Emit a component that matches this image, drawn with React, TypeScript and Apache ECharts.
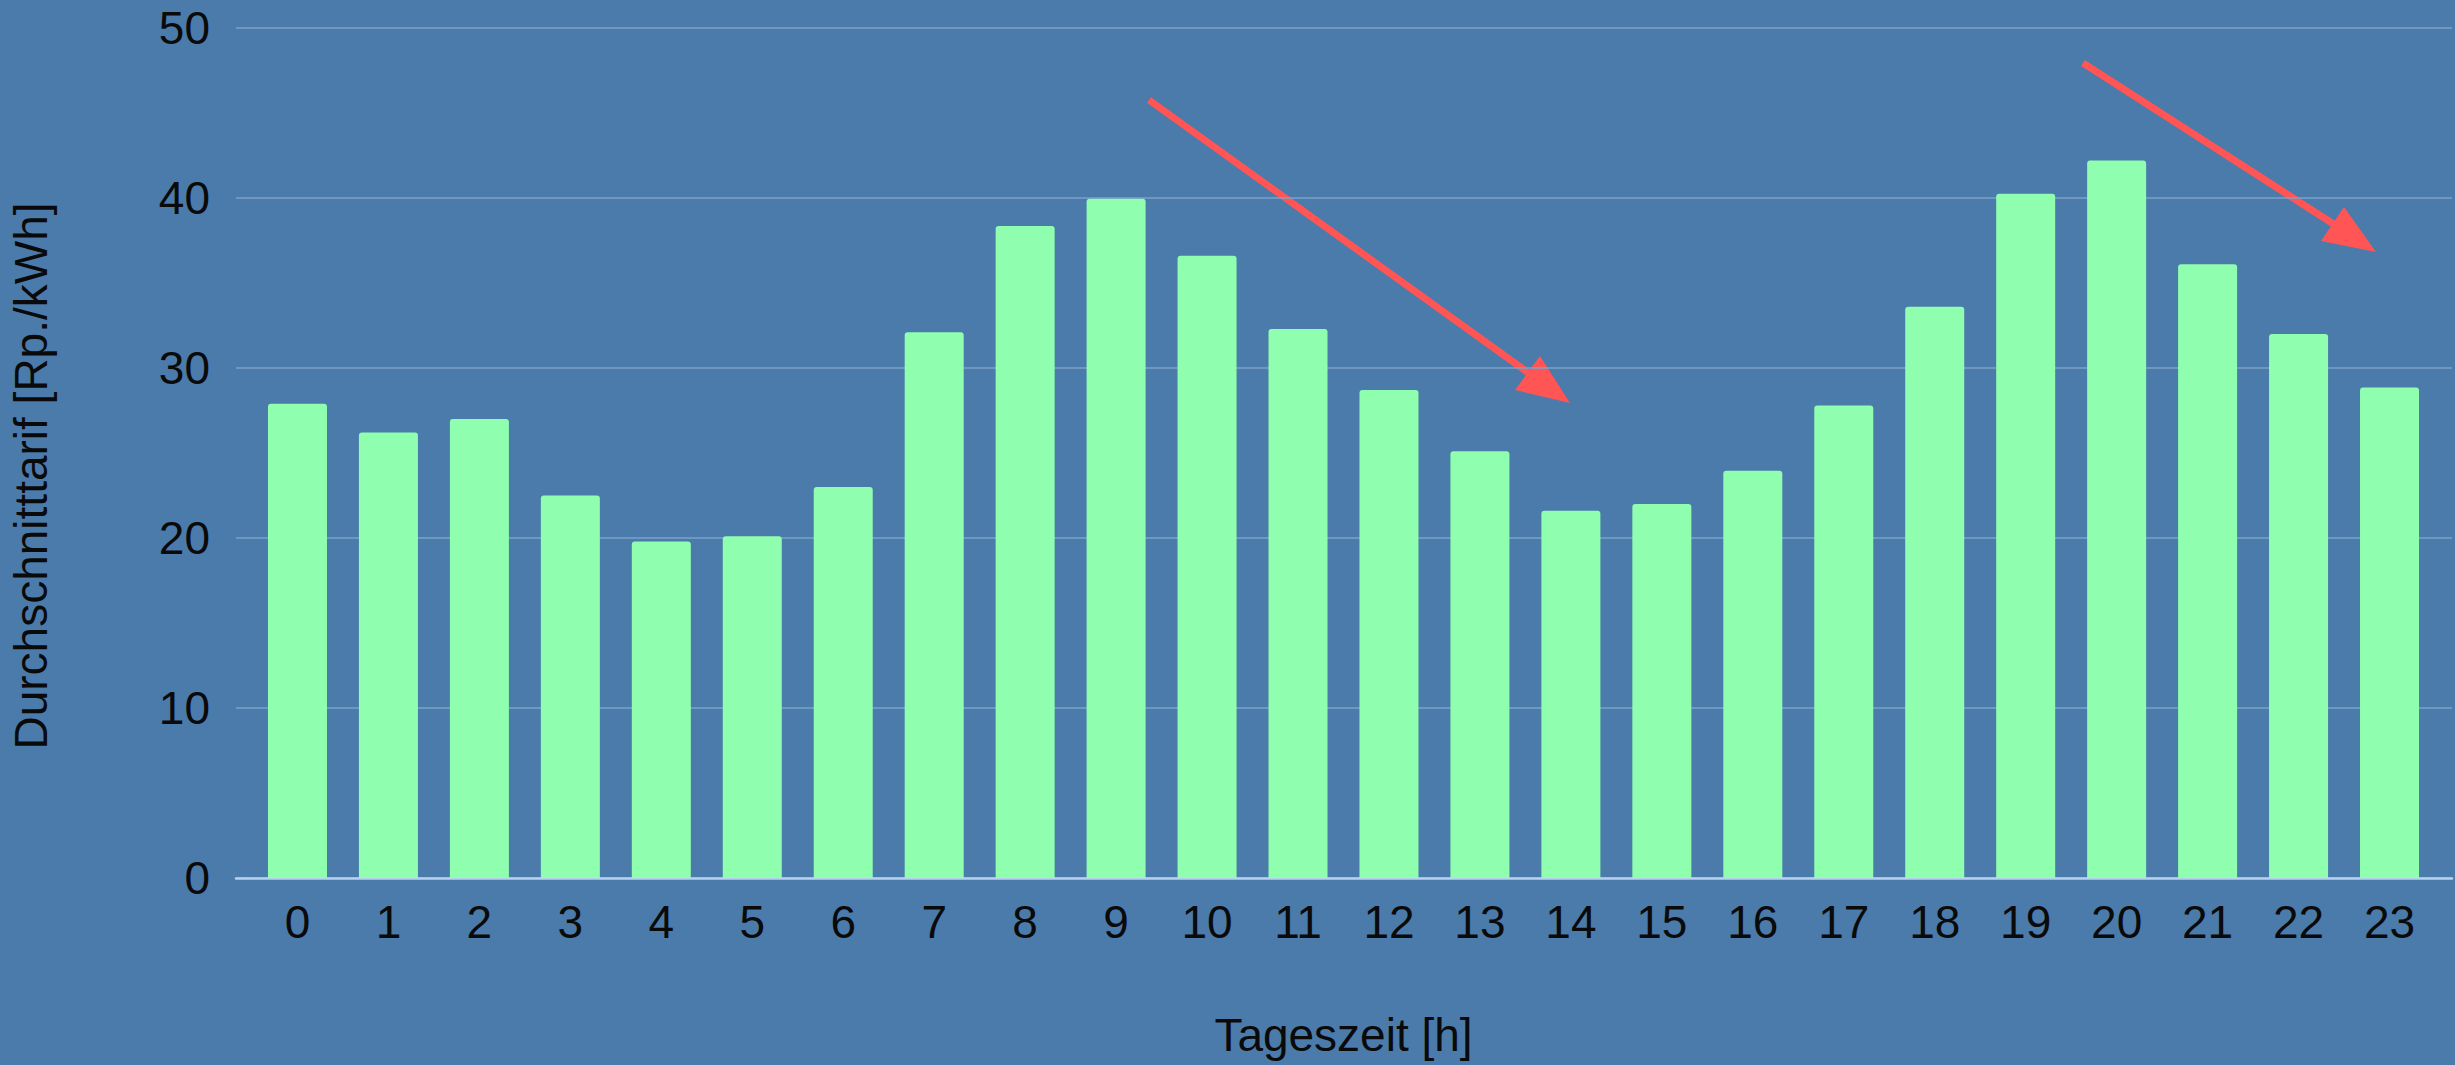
import React, { useEffect, useRef } from "react";
import * as echarts from "echarts";

const hours = ["0","1","2","3","4","5","6","7","8","9","10","11","12","13","14","15","16","17","18","19","20","21","22","23"];
const tariff = [27.9, 26.2, 27.0, 22.5, 19.8, 20.1, 23.0, 32.1, 38.35, 39.95, 36.6, 32.3, 28.7, 25.1, 21.6, 22.0, 23.95, 27.8, 33.6, 40.25, 42.2, 36.1, 32.0, 28.85];
const yTicks = { min: 0, max: 50, interval: 10 };
const xTitle = "Tageszeit [h]";
const yTitle = "Durchschnitttarif [Rp./kWh]";

const FONT = "Liberation Sans, Arial, sans-serif";
const TEXT = "#0A0A0A";
const BG = "#4A7BAA";
const BAR = "#8FFFAF";
const GRIDLINE = "#7DA2C8";
const AXISLINE = "#B6D2EE";
const ARROW = "#FF5555";
const FS = 46;

export default function App() {
  const ref = useRef<HTMLDivElement>(null);
  useEffect(() => {
    if (!ref.current) return;
    const chart = echarts.init(ref.current, undefined, { renderer: "svg" });
    const bottom = 187;
    chart.setOption({
      animation: false,
      backgroundColor: BG,
      textStyle: { fontFamily: FONT },
      grid: [
        { left: 252, right: 20, top: 28, bottom },
        { left: 236, right: 3, top: 28, bottom },
        { left: 236, right: 3, top: 74, bottom },
      ],
      xAxis: [
        {
          type: "category",
          gridIndex: 0,
          data: hours,
          axisLine: { show: false },
          axisTick: { show: false },
          axisLabel: { color: TEXT, fontSize: FS, fontFamily: FONT, margin: 21 },
          name: xTitle,
          nameLocation: "middle",
          nameGap: 134,
          nameTextStyle: { color: TEXT, fontSize: FS, fontFamily: FONT },
        },
        {
          type: "value",
          gridIndex: 1,
          min: 0,
          max: 1,
          axisLine: { show: true, lineStyle: { color: AXISLINE, width: 2.5 } },
          axisTick: { show: false },
          axisLabel: { show: false },
          splitLine: { show: false },
        },
        {
          type: "value",
          gridIndex: 2,
          show: false,
          min: 0,
          max: 1,
        },
      ],
      yAxis: [
        {
          type: "value",
          gridIndex: 0,
          show: false,
          min: yTicks.min,
          max: yTicks.max,
          interval: yTicks.interval,
        },
        {
          type: "value",
          gridIndex: 1,
          min: yTicks.min,
          max: yTicks.max,
          interval: yTicks.interval,
          axisLine: { show: false },
          axisTick: { show: false },
          axisLabel: { color: TEXT, fontSize: FS, fontFamily: FONT, margin: 26 },
          splitLine: { show: true, lineStyle: { color: GRIDLINE, width: 1.5 } },
        },
        {
          type: "value",
          gridIndex: 2,
          min: 0,
          max: 1,
          axisLine: { show: false },
          axisTick: { show: false },
          axisLabel: { show: false },
          splitLine: { show: false },
          name: yTitle,
          nameLocation: "middle",
          nameGap: 184,
          nameTextStyle: { color: TEXT, fontSize: FS, fontFamily: FONT },
        },
      ],
      series: [
        {
          type: "bar",
          xAxisIndex: 0,
          yAxisIndex: 0,
          data: tariff,
          barWidth: 59,
          itemStyle: { color: BAR, borderRadius: [3, 3, 0, 0] },
        },
      ],
      graphic: [
        { type: "line", shape: { x1: 1149, y1: 100, x2: 1530, y2: 374 }, style: { stroke: ARROW, lineWidth: 7 } },
        { type: "polygon", shape: { points: [[1570, 403], [1515, 390], [1540, 356]] }, style: { fill: ARROW } },
        { type: "line", shape: { x1: 2083, y1: 63, x2: 2335, y2: 225 }, style: { stroke: ARROW, lineWidth: 7 } },
        { type: "polygon", shape: { points: [[2376, 252], [2321, 241], [2344, 207]] }, style: { fill: ARROW } },
      ],
    });
    return () => chart.dispose();
  }, []);
  return (
    <div
      ref={ref}
      style={{ position: "absolute", left: 0, top: 0, width: 2455, height: 1065 }}
    />
  );
}
